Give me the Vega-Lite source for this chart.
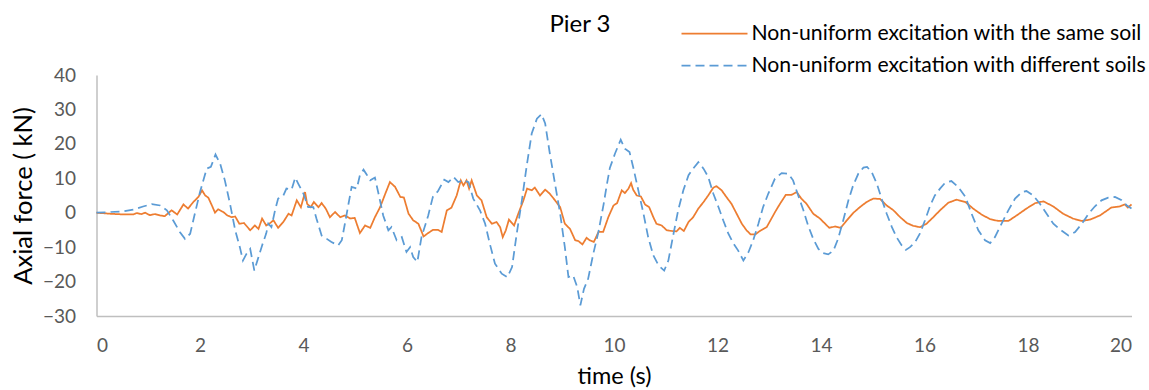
{
  "$schema": "https://vega.github.io/schema/vega-lite/v6.json",
  "width": 1035,
  "height": 241,
  "autosize": {"type": "none"},
  "padding": {"left": 96.5, "top": 75, "right": 17.5, "bottom": 74},
  "background": "white",
  "config": {"font": "Lato", "view": {"stroke": null}},
  "title": {"text": "Pier 3", "fontSize": 24, "font": "Lato", "fontWeight": "normal", "color": "#000000", "frame": "group", "anchor": "middle", "dx": -34, "baseline": "alphabetic", "offset": -34.5},
  "datasets": {
    "same": [
      [0,0],[0.26,-0.3],[0.52,-0.5],[0.71,-0.5],[0.78,-0.1],[0.87,-0.4],[0.94,0],[1.03,-0.7],[1.13,-0.4],[1.23,-0.8],[1.32,-1.0],[1.45,0.7],[1.56,-0.5],[1.68,2.4],[1.77,1.2],[1.87,3.1],[1.97,4.6],[2.04,6.5],[2.1,5.0],[2.16,4.4],[2.23,2.1],[2.29,0],[2.35,1.0],[2.45,0.2],[2.53,-0.8],[2.61,-1.3],[2.68,-1.1],[2.76,-3.2],[2.85,-3.0],[2.97,-5.1],[3.06,-3.7],[3.13,-4.7],[3.2,-1.7],[3.28,-3.7],[3.34,-3.2],[3.42,-2.2],[3.51,-4.4],[3.61,-2.7],[3.71,-0.3],[3.77,-0.8],[3.87,3.6],[3.95,1.6],[4.03,6.0],[4.07,2.6],[4.14,1.6],[4.2,3.1],[4.29,1.6],[4.35,2.8],[4.43,1.2],[4.51,-1.3],[4.61,0.2],[4.71,-1.3],[4.8,-0.8],[4.9,-1.7],[4.99,-1.5],[5.09,-5.9],[5.19,-3.7],[5.29,-4.4],[5.38,-1.3],[5.48,1.6],[5.58,5.5],[5.67,8.9],[5.77,7.5],[5.87,4.6],[5.94,4.4],[6.03,-0.3],[6.12,-2.2],[6.22,-3.2],[6.32,-6.9],[6.41,-5.9],[6.5,-5.0],[6.6,-5.0],[6.67,-5.6],[6.77,0.7],[6.86,1.5],[6.96,5.0],[7.04,9.4],[7.09,7.9],[7.15,9.4],[7.2,7.0],[7.25,9.4],[7.35,5.0],[7.44,3.6],[7.54,-1.3],[7.64,-3.2],[7.73,-2.7],[7.8,-4.2],[7.85,-7.1],[7.91,-5.1],[7.97,-2.0],[8.07,-3.7],[8.15,-0.3],[8.25,3.6],[8.32,7.0],[8.41,6.5],[8.47,7.3],[8.57,5.0],[8.67,6.7],[8.76,5.5],[8.86,3.6],[8.96,1.6],[9.05,-3.2],[9.15,-4.7],[9.25,-8.0],[9.31,-8.2],[9.39,-9.2],[9.47,-7.3],[9.53,-8.0],[9.61,-8.5],[9.7,-5.6],[9.79,-5.6],[9.89,-1.3],[9.99,2.1],[10.06,2.8],[10.15,6.5],[10.21,5.7],[10.28,7.0],[10.33,8.6],[10.37,6.7],[10.44,5.0],[10.52,4.7],[10.6,2.4],[10.68,1.6],[10.76,-1.3],[10.82,-3.2],[10.92,-3.7],[11.02,-5.1],[11.11,-5.3],[11.21,-5.4],[11.27,-4.4],[11.35,-5.3],[11.44,-2.7],[11.53,-1.3],[11.63,1.2],[11.73,3.1],[11.82,5.0],[11.92,7.3],[11.98,7.7],[12.08,6.5],[12.18,4.4],[12.27,2.6],[12.37,-0.3],[12.47,-3.2],[12.56,-5.1],[12.64,-6.3],[12.73,-6.3],[12.82,-5.3],[12.95,-4.2],[13.05,-1.5],[13.12,0.4],[13.2,2.4],[13.32,5.2],[13.43,5.2],[13.53,6.0],[13.62,4.1],[13.72,2.6],[13.85,-0.3],[13.98,-1.7],[14.08,-3.2],[14.16,-4.4],[14.27,-4.0],[14.38,-4.4],[14.5,-2.2],[14.62,-0.1],[14.75,1.6],[14.88,3.1],[15.01,4.1],[15.14,4.0],[15.27,2.1],[15.4,0.7],[15.53,-1.3],[15.66,-3.0],[15.78,-3.8],[15.91,-4.2],[16.04,-3.2],[16.17,-1.3],[16.3,0.7],[16.46,2.9],[16.62,3.8],[16.79,3.1],[16.94,1.2],[17.1,-0.5],[17.27,-1.9],[17.43,-2.4],[17.62,-2.4],[17.78,-0.8],[17.97,1.2],[18.14,2.8],[18.3,3.3],[18.49,1.8],[18.68,-0.3],[18.87,-1.7],[19.04,-2.4],[19.2,-2.0],[19.39,-0.8],[19.61,1.5],[19.77,1.8],[19.87,2.4],[19.93,1.5],[20.0,2.4]
    ],
    "diff": [
      [0,0],[0.26,0.2],[0.52,0.4],[0.71,0.9],[0.9,1.8],[1.07,2.5],[1.23,2.1],[1.36,0.7],[1.48,-2.2],[1.61,-5.6],[1.71,-7.6],[1.81,-6.1],[1.9,-0.3],[2.0,6.0],[2.13,12.8],[2.21,13.3],[2.3,16.9],[2.39,14.2],[2.48,9.4],[2.58,2.6],[2.68,-5.1],[2.77,-10],[2.83,-13.9],[2.9,-11.9],[2.97,-10.5],[3.05,-16.8],[3.13,-12.9],[3.2,-9.5],[3.28,-6.0],[3.32,-3.2],[3.38,-4.2],[3.45,0.7],[3.51,4.1],[3.61,5.0],[3.67,7.0],[3.77,6.7],[3.84,10.2],[3.9,8.4],[4.0,5.5],[4.09,1.6],[4.19,1.6],[4.25,-1.7],[4.35,-6.6],[4.45,-7.6],[4.54,-8.5],[4.67,-9.5],[4.74,-8.0],[4.8,-3.2],[4.87,2.6],[4.93,7.5],[5.03,7.0],[5.09,10.9],[5.16,12.5],[5.22,11.1],[5.29,9.4],[5.38,10.2],[5.45,5.5],[5.54,-0.8],[5.64,-5.1],[5.7,-4.2],[5.8,-8.0],[5.9,-7.1],[5.99,-11.4],[6.06,-10.0],[6.12,-12.9],[6.2,-14.3],[6.28,-7.1],[6.41,-0.8],[6.5,4.6],[6.6,6.3],[6.72,9.6],[6.8,8.9],[6.9,10.4],[6.99,8.9],[7.09,9.4],[7.19,8.9],[7.28,4.1],[7.41,0.7],[7.51,-3.2],[7.6,-9.0],[7.7,-14.8],[7.83,-17.7],[7.94,-18.7],[8.03,-15.8],[8.12,-6.1],[8.22,3.6],[8.31,13.3],[8.41,23.0],[8.51,27.3],[8.6,28.6],[8.67,25.9],[8.76,17.2],[8.86,8.4],[8.96,-0.3],[9.05,-10],[9.12,-18.7],[9.21,-18.2],[9.29,-21.6],[9.35,-26.9],[9.42,-22.1],[9.5,-19.2],[9.6,-11.9],[9.7,-5.5],[9.8,2.5],[9.86,8.0],[9.92,13.0],[10.02,17.2],[10.13,21.2],[10.21,18.6],[10.3,17.6],[10.37,13.3],[10.47,6.5],[10.57,-0.3],[10.66,-7.1],[10.76,-12.4],[10.86,-15.3],[10.97,-16.8],[11.05,-13.9],[11.15,-6.1],[11.24,0.7],[11.34,6.5],[11.44,10.9],[11.53,12.8],[11.63,14.7],[11.73,12.8],[11.82,10.4],[11.92,5.5],[12.02,1.6],[12.11,-2.2],[12.21,-6.1],[12.31,-9.0],[12.4,-11.0],[12.5,-13.9],[12.6,-11.4],[12.69,-8.0],[12.79,-3.2],[12.88,1.6],[12.98,5.5],[13.04,7.5],[13.11,9.9],[13.24,11.5],[13.37,11.3],[13.46,9.4],[13.56,5.0],[13.66,0.7],[13.75,-3.7],[13.85,-7.6],[13.95,-10.5],[14.04,-11.7],[14.14,-12.1],[14.24,-11.0],[14.33,-7.6],[14.43,-2.2],[14.53,3.6],[14.62,7.9],[14.72,11.3],[14.82,13.1],[14.89,13.3],[14.98,11.8],[15.08,8.4],[15.17,4.1],[15.27,-0.3],[15.37,-4.2],[15.46,-7.1],[15.56,-9.5],[15.64,-10.8],[15.72,-10.0],[15.82,-8.5],[15.91,-6.1],[16.01,-2.2],[16.11,2.1],[16.2,5.0],[16.3,7.0],[16.4,8.7],[16.52,9.2],[16.65,7.5],[16.79,4.6],[16.91,-0.3],[17.04,-5.1],[17.17,-8.0],[17.27,-8.8],[17.36,-7.1],[17.49,-3.2],[17.62,0.7],[17.75,4.1],[17.88,6.0],[17.97,6.3],[18.1,5.0],[18.23,2.6],[18.36,-0.3],[18.49,-3.2],[18.62,-4.9],[18.78,-6.6],[18.91,-5.6],[19.04,-3.2],[19.17,-0.3],[19.29,1.8],[19.42,3.6],[19.55,4.4],[19.68,4.6],[19.81,3.6],[19.91,2.1],[20.0,1.2]
    ]
  },
  "layer": [
    {
      "data": {"name": "same"},
      "transform": [{"calculate": "'Non-uniform excitation with the same soil'", "as": "s"}],
      "mark": {"type": "line", "strokeWidth": 1.75},
      "encoding": {
        "x": {"field": "0", "type": "quantitative"},
        "y": {"field": "1", "type": "quantitative"}
      }
    },
    {
      "data": {"name": "diff"},
      "transform": [{"calculate": "'Non-uniform excitation with different soils'", "as": "s"}],
      "mark": {"type": "line", "strokeWidth": 1.75},
      "encoding": {
        "x": {"field": "0", "type": "quantitative"},
        "y": {"field": "1", "type": "quantitative"}
      }
    }
  ],
  "encoding": {
    "x": {"field": "0", "type": "quantitative",
      "scale": {"domain": [0, 20], "nice": false, "zero": false},
      "axis": {"values": [0,2,4,6,8,10,12,14,16,18,20], "title": "time (s)", "grid": false, "ticks": false, "tickSize": 0,
        "domainColor": "#BFBFBF", "domainWidth": 1.5, "labelFont": "Lato", "labelFontSize": 19, "labelColor": "#595959",
        "labelPadding": 20, "titleFont": "Lato", "titleFontSize": 23.5, "titleFontWeight": "normal", "titleColor": "#000000", "titlePadding": 9}},
    "y": {"field": "1", "type": "quantitative",
      "scale": {"domain": [-30, 40], "nice": false},
      "axis": {"values": [-30,-20,-10,0,10,20,30,40], "title": "Axial force ( kN)", "grid": false, "ticks": false, "tickSize": 0,
        "domainColor": "#BFBFBF", "domainWidth": 1.5, "labelFont": "Lato", "labelFontSize": 19, "labelColor": "#595959",
        "labelPadding": 21, "titleFont": "Lato", "titleFontSize": 25.5, "titleFontWeight": "normal", "titleColor": "#000000", "titlePadding": 6}},
    "color": {"field": "s", "type": "nominal",
      "scale": {"domain": ["Non-uniform excitation with the same soil", "Non-uniform excitation with different soils"], "range": ["#ED7D31", "#5B9BD5"]},
      "legend": {"orient": "none", "legendX": 584, "legendY": -53.5, "title": null, "symbolType": "stroke", "symbolSize": 4356, "symbolStrokeWidth": 1.75, "labelFont": "Lato", "labelFontSize": 21.2, "labelColor": "#000000", "labelOffset": 3, "labelLimit": 700, "padding": 0, "rowPadding": 8, "clipHeight": 24}},
    "strokeDash": {"field": "s", "type": "nominal",
      "scale": {"domain": ["Non-uniform excitation with the same soil", "Non-uniform excitation with different soils"], "range": [[1, 0], [9, 5]]},
      "legend": {"orient": "none", "legendX": 584, "legendY": -53.5, "title": null, "symbolType": "stroke", "symbolSize": 4356, "symbolStrokeWidth": 1.75, "labelFont": "Lato", "labelFontSize": 21.2, "labelColor": "#000000", "labelOffset": 3, "labelLimit": 700, "padding": 0, "rowPadding": 8, "clipHeight": 24}}
  }
}
